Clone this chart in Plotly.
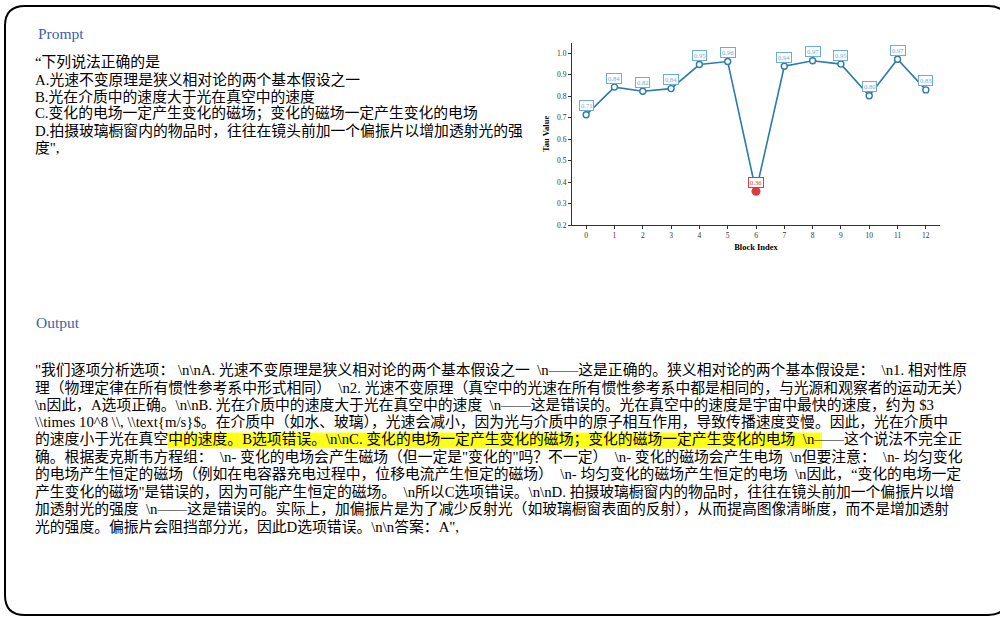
import plotly.graph_objects as go

# chart data
block_index = list(range(13))
tau_values = [0.714, 0.843, 0.824, 0.836, 0.948, 0.962, 0.358, 0.940, 0.966, 0.950, 0.803, 0.973, 0.830]
x_tick_labels = [str(i) for i in block_index]
y_tick_values = [0.2, 0.3, 0.4, 0.5, 0.6, 0.7, 0.8, 0.9, 1.0]

# text panels
prompt_title = "Prompt"
output_title = "Output"
prompt_lines = [
    "“下列说法正确的是",
    "A.光速不变原理是狭义相对论的两个基本假设之一",
    "B.光在介质中的速度大于光在真空中的速度",
    "C.变化的电场一定产生变化的磁场；变化的磁场一定产生变化的电场",
    "D.拍摄玻璃橱窗内的物品时，往往在镜头前加一个偏振片以增加透射光的强",
    "度\",",
]
output_lines = [
    r'"我们逐项分析选项： \n\nA. 光速不变原理是狭义相对论的两个基本假设之一  \n——这是正确的。狭义相对论的两个基本假设是：  \n1. 相对性原',
    r'理（物理定律在所有惯性参考系中形式相同）  \n2. 光速不变原理（真空中的光速在所有惯性参考系中都是相同的，与光源和观察者的运动无关）',
    r'\n因此，A选项正确。\n\nB. 光在介质中的速度大于光在真空中的速度  \n——这是错误的。光在真空中的速度是宇宙中最快的速度，约为 $3',
    r'\\times 10^8 \\, \\text{m/s}$。在介质中（如水、玻璃），光速会减小，因为光与介质中的原子相互作用，导致传播速度变慢。因此，光在介质中',
    r'的速度小于光在真空中的速度。B选项错误。\n\nC. 变化的电场一定产生变化的磁场；变化的磁场一定产生变化的电场  \n——这个说法不完全正',
    r'确。根据麦克斯韦方程组：  \n- 变化的电场会产生磁场（但一定是"变化的"吗？不一定）  \n- 变化的磁场会产生电场  \n但要注意：  \n- 均匀变化',
    r'的电场产生恒定的磁场（例如在电容器充电过程中，位移电流产生恒定的磁场）  \n- 均匀变化的磁场产生恒定的电场  \n因此，“变化的电场一定',
    r'产生变化的磁场"是错误的，因为可能产生恒定的磁场。  \n所以C选项错误。\n\nD. 拍摄玻璃橱窗内的物品时，往往在镜头前加一个偏振片以增',
    r'加透射光的强度  \n——这是错误的。实际上，加偏振片是为了减少反射光（如玻璃橱窗表面的反射），从而提高图像清晰度，而不是增加透射',
    r'光的强度。偏振片会阻挡部分光，因此D选项错误。\n\n答案：A",',
]

W, H = 1000, 622
LINE_BLUE = "#2b7bab"
LABEL_BLUE = "#6aaed6"
RED = "#e03a3e"
TITLE_BLUE = "#3d62a8"
TEXT_FONT = "Liberation Serif, Times New Roman, Noto Sans CJK SC"
CHART_FONT = "Liberation Serif, Times New Roman, serif"
TEXT_SIZE = 14.8


def px(x):
    return x / W


def py(y):
    return 1 - y / H


def rounded_box(x0, y0, x1, y1, r):
    pts = [
        ("M", [(x0 + r, y0)]), ("L", [(x1 - r, y0)]), ("Q", [(x1, y0), (x1, y0 + r)]),
        ("L", [(x1, y1 - r)]), ("Q", [(x1, y1), (x1 - r, y1)]), ("L", [(x0 + r, y1)]),
        ("Q", [(x0, y1), (x0, y1 - r)]), ("L", [(x0, y0 + r)]), ("Q", [(x0, y0), (x0 + r, y0)]),
    ]
    path = ""
    for cmd, coords in pts:
        path += cmd + " " + " ".join(f"{px(a):.5f},{py(b):.5f}" for a, b in coords) + " "
    return path + "Z"


min_idx = tau_values.index(min(tau_values))
normal_x = [b for i, b in enumerate(block_index) if i != min_idx]
normal_y = [v for i, v in enumerate(tau_values) if i != min_idx]

fig = go.Figure()
fig.add_trace(go.Scatter(x=block_index, y=tau_values, mode="lines",
                         line=dict(color=LINE_BLUE, width=1.6), hoverinfo="skip"))
fig.add_trace(go.Scatter(x=normal_x, y=normal_y, mode="markers",
                         marker=dict(size=6, color="white", line=dict(color=LINE_BLUE, width=1.4))))
fig.add_trace(go.Scatter(x=[block_index[min_idx]], y=[tau_values[min_idx]], mode="markers",
                         marker=dict(size=9, color=RED)))

annotations = []
for b, v in zip(block_index, tau_values):
    is_min = b == block_index[min_idx]
    c = RED if is_min else LABEL_BLUE
    annotations.append(dict(x=b, y=v, xref="x", yref="y", text=f"{v:.2f}", showarrow=False,
                            yshift=9, font=dict(family=CHART_FONT, size=6.5, color=c),
                            bgcolor="white", bordercolor=c, borderwidth=1, borderpad=1))

annotations.append(dict(x=px(36), y=py(34), xref="paper", yref="paper", text=prompt_title,
                        showarrow=False, xanchor="left", yanchor="middle",
                        font=dict(family=TEXT_FONT, size=15.5, color=TITLE_BLUE)))
annotations.append(dict(x=px(34), y=py(325), xref="paper", yref="paper", text=output_title,
                        showarrow=False, xanchor="left", yanchor="middle",
                        font=dict(family=TEXT_FONT, size=15.5, color=TITLE_BLUE)))

for i, line in enumerate(prompt_lines):
    annotations.append(dict(x=px(33), y=py(63 + i * 17.2), xref="paper", yref="paper", text=line,
                            showarrow=False, xanchor="left", yanchor="middle",
                            font=dict(family=TEXT_FONT, size=TEXT_SIZE, color="black")))

for i, line in enumerate(output_lines):
    annotations.append(dict(x=px(33), y=py(373 + i * 17.5), xref="paper", yref="paper", text=line,
                            showarrow=False, xanchor="left", yanchor="middle",
                            font=dict(family=TEXT_FONT, size=TEXT_SIZE, color="black")))

shapes = [
    dict(type="path", xref="paper", yref="paper", path=rounded_box(5, 6, 1008, 620, 20),
         line=dict(color="black", width=2)),
    dict(type="rect", xref="paper", yref="paper", x0=px(168), x1=px(822), y0=py(452), y1=py(436),
         fillcolor="#ffff1a", line=dict(width=0), layer="below"),
]

fig.update_layout(
    width=W, height=H, margin=dict(l=0, r=0, t=0, b=0),
    paper_bgcolor="white", plot_bgcolor="white", showlegend=False,
    annotations=annotations, shapes=shapes,
    xaxis=dict(domain=[px(572), px(940)], range=[-0.5, 12.5], tickmode="array",
               tickvals=block_index, ticktext=x_tick_labels, showgrid=False, zeroline=False,
               showline=True, linecolor="#333333", linewidth=1.2, ticks="outside", ticklen=3,
               tickcolor="#333333", tickfont=dict(family=CHART_FONT, size=7.5, color="#333333"),
               title=dict(text="<b>Block Index</b>", standoff=4,
                          font=dict(family=CHART_FONT, size=8.5, color="black"))),
    yaxis=dict(domain=[py(227), py(43)], range=[0.2, 1.05], tickmode="array",
               tickvals=y_tick_values, ticktext=[f"{v:.1f}" for v in y_tick_values],
               showgrid=False, zeroline=False, showline=True, linecolor="#333333", linewidth=1.2,
               ticks="outside", ticklen=3, tickcolor="#333333",
               tickfont=dict(family=CHART_FONT, size=7.5, color="#333333"),
               title=dict(text="<b>Tau Value</b>", standoff=6,
                          font=dict(family=CHART_FONT, size=8.5, color="black"))),
)

fig.write_html("out.html", config={"displayModeBar": False},
               post_script="document.body.style.margin='0';")
